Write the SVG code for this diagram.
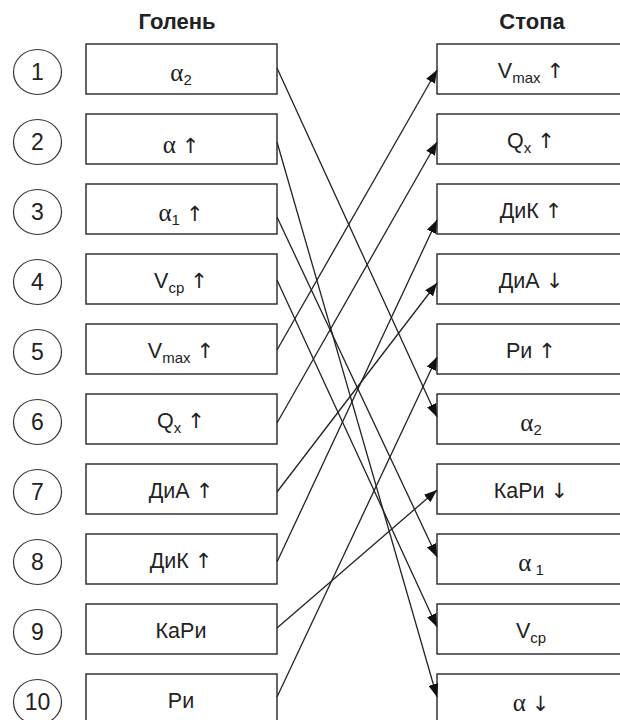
<svg xmlns="http://www.w3.org/2000/svg" width="620" height="720" viewBox="0 0 620 720">
<style>
.box{fill:#fff;stroke:#333;stroke-width:1.5}
.num{fill:#fff;stroke:#333;stroke-width:1.2}
.t{font-family:"Liberation Sans",Arial,sans-serif;font-size:21.5px;fill:#222;text-anchor:middle}
.n{font-family:"Liberation Sans",Arial,sans-serif;font-size:23px;fill:#222;text-anchor:middle}
.a{font-family:"Liberation Serif","Times New Roman",serif;font-size:25px}
.s{font-size:15px}
.r{font-family:"DejaVu Sans",sans-serif;font-size:21px;fill:#222}
.h{font-family:"Liberation Sans",Arial,sans-serif;font-size:22px;font-weight:bold;fill:#222;text-anchor:middle}
.c{fill:none;stroke:#222;stroke-width:1.3}
</style>
<defs>
<marker id="arr" markerUnits="userSpaceOnUse" markerWidth="14" markerHeight="10" refX="13" refY="5" orient="auto">
<path d="M0,0 L13,5 L0,10 Z" fill="#111"/>
</marker>
</defs>
<text class="h" x="177" y="29">Голень</text>
<text class="h" x="532" y="29">Стопа</text>
<g id="left">
<g id="L1"><ellipse class="num" cx="37.5" cy="72" rx="24" ry="22.5"/><text class="n" x="37.5" y="80">1</text><rect class="box" x="86" y="44" width="191" height="50"/><text class="t" x="181" y="81"><tspan class="a">α</tspan><tspan class="s" dy="4">2</tspan></text></g>
<g id="L2"><ellipse class="num" cx="37.5" cy="142" rx="24" ry="22.5"/><text class="n" x="37.5" y="150">2</text><rect class="box" x="86" y="114" width="191" height="50"/><text class="t" x="181" y="153"><tspan class="a">α</tspan> <tspan class="r">↑</tspan></text></g>
<g id="L3"><ellipse class="num" cx="37.5" cy="212" rx="24" ry="22.5"/><text class="n" x="37.5" y="220">3</text><rect class="box" x="86" y="184" width="191" height="50"/><text class="t" x="181" y="221"><tspan class="a">α</tspan><tspan class="s" dy="4">1</tspan><tspan dy="-4"> </tspan><tspan class="r">↑</tspan></text></g>
<g id="L4"><ellipse class="num" cx="37.5" cy="282" rx="24" ry="22.5"/><text class="n" x="37.5" y="290">4</text><rect class="box" x="86" y="254" width="191" height="50"/><text class="t" x="181" y="288">V<tspan class="s" dy="5">cp</tspan><tspan dy="-5"> </tspan><tspan class="r">↑</tspan></text></g>
<g id="L5"><ellipse class="num" cx="37.5" cy="352" rx="24" ry="22.5"/><text class="n" x="37.5" y="360">5</text><rect class="box" x="86" y="324" width="191" height="50"/><text class="t" x="181" y="358">V<tspan class="s" dy="5">max</tspan><tspan dy="-5"> </tspan><tspan class="r">↑</tspan></text></g>
<g id="L6"><ellipse class="num" cx="37.5" cy="422" rx="24" ry="22.5"/><text class="n" x="37.5" y="430">6</text><rect class="box" x="86" y="394" width="191" height="50"/><text class="t" x="181" y="428">Q<tspan class="s" dy="5">x</tspan><tspan dy="-5"> </tspan><tspan class="r">↑</tspan></text></g>
<g id="L7"><ellipse class="num" cx="37.5" cy="492" rx="24" ry="22.5"/><text class="n" x="37.5" y="500">7</text><rect class="box" x="86" y="464" width="191" height="50"/><text class="t" x="181" y="498">ДиА <tspan class="r">↑</tspan></text></g>
<g id="L8"><ellipse class="num" cx="37.5" cy="562" rx="24" ry="22.5"/><text class="n" x="37.5" y="570">8</text><rect class="box" x="86" y="534" width="191" height="50"/><text class="t" x="181" y="568">ДиК <tspan class="r">↑</tspan></text></g>
<g id="L9"><ellipse class="num" cx="37.5" cy="632" rx="24" ry="22.5"/><text class="n" x="37.5" y="640">9</text><rect class="box" x="86" y="604" width="191" height="50"/><text class="t" x="181" y="638">КаРи</text></g>
<g id="L10"><ellipse class="num" cx="37.5" cy="702" rx="24" ry="22.5"/><text class="n" x="37.5" y="710">10</text><rect class="box" x="86" y="674" width="191" height="50"/><text class="t" x="181" y="708">Ри</text></g>
</g>
<g id="right">
<g id="R1"><rect class="box" x="437" y="44" width="191" height="50"/><text class="t" x="531" y="78">V<tspan class="s" dy="5">max</tspan><tspan dy="-5"> </tspan><tspan class="r">↑</tspan></text></g>
<g id="R2"><rect class="box" x="437" y="114" width="191" height="50"/><text class="t" x="531" y="148">Q<tspan class="s" dy="5">x</tspan><tspan dy="-5"> </tspan><tspan class="r">↑</tspan></text></g>
<g id="R3"><rect class="box" x="437" y="184" width="191" height="50"/><text class="t" x="531" y="218">ДиК <tspan class="r">↑</tspan></text></g>
<g id="R4"><rect class="box" x="437" y="254" width="191" height="50"/><text class="t" x="531" y="288">ДиА <tspan class="r">↓</tspan></text></g>
<g id="R5"><rect class="box" x="437" y="324" width="191" height="50"/><text class="t" x="531" y="358">Ри <tspan class="r">↑</tspan></text></g>
<g id="R6"><rect class="box" x="437" y="394" width="191" height="50"/><text class="t" x="531" y="431"><tspan class="a">α</tspan><tspan class="s" dy="4">2</tspan></text></g>
<g id="R7"><rect class="box" x="437" y="464" width="191" height="50"/><text class="t" x="531" y="498">КаРи <tspan class="r">↓</tspan></text></g>
<g id="R8"><rect class="box" x="437" y="534" width="191" height="50"/><text class="t" x="531" y="571"><tspan class="a">α</tspan><tspan class="s" dy="4"> 1</tspan></text></g>
<g id="R9"><rect class="box" x="437" y="604" width="191" height="50"/><text class="t" x="531" y="638">V<tspan class="s" dy="5">cp</tspan></text></g>
<g id="R10"><rect class="box" x="437" y="674" width="191" height="50"/><text class="t" x="531" y="711"><tspan class="a">α</tspan> <tspan class="r">↓</tspan></text></g>
</g>
<g id="connectors" class="c">
<line x1="277" y1="68" x2="437" y2="417" marker-end="url(#arr)"/>
<line x1="277" y1="142" x2="437" y2="697" marker-end="url(#arr)"/>
<line x1="277" y1="217" x2="437" y2="557" marker-end="url(#arr)"/>
<line x1="277" y1="280" x2="437" y2="627" marker-end="url(#arr)"/>
<line x1="277" y1="350" x2="437" y2="70" marker-end="url(#arr)"/>
<line x1="277" y1="423" x2="437" y2="142" marker-end="url(#arr)"/>
<line x1="277" y1="492" x2="437" y2="283" marker-end="url(#arr)"/>
<line x1="277" y1="562" x2="437" y2="220" marker-end="url(#arr)"/>
<line x1="277" y1="628" x2="437" y2="490" marker-end="url(#arr)"/>
<line x1="277" y1="697" x2="437" y2="357" marker-end="url(#arr)"/>
</g>
</svg>
